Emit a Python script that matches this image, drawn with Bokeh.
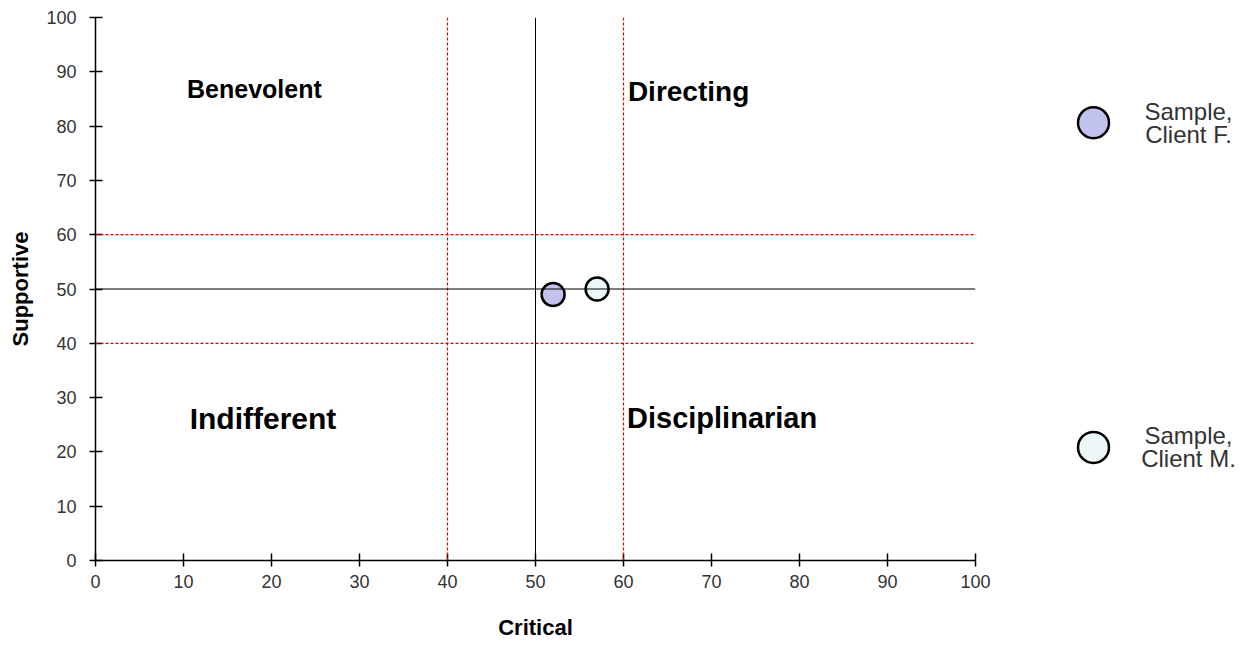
from bokeh.plotting import figure
from bokeh.models import Range1d, Span, ColumnDataSource, FixedTicker
from bokeh.layouts import row
from bokeh.embed import file_html
from bokeh.resources import INLINE
from bokeh.core.properties import value

# ---- data ----
clients = ["Sample,\nClient F.", "Sample,\nClient M."]
critical = [52, 57]
supportive = [49, 50]
fills = ["#c2c2ee", "#ecf7f7"]

ticks = [0, 10, 20, 30, 40, 50, 60, 70, 80, 90, 100]
boundaries = [40, 60]
midline = 50

quad_names = ["Benevolent", "Directing", "Indifferent", "Disciplinarian"]
quad_x = [10.4, 60.5, 10.7, 60.4]
quad_y = [86.8, 86.4, 26.1, 26.2]
quad_size = ["25px", "28px", "30px", "29px"]

FONT = "Liberation Sans"

p = figure(frame_width=880, frame_height=543,
           x_range=Range1d(0, 100), y_range=Range1d(0, 100),
           output_backend="svg", toolbar_location=None,
           min_border_left=95, min_border_right=30,
           min_border_top=17, min_border_bottom=78)
p.outline_line_color = None
p.grid.visible = False
p.background_fill_color = "white"

for ax in (p.xaxis[0], p.yaxis[0]):
    ax.ticker = FixedTicker(ticks=ticks)
    ax.minor_tick_line_color = None
    ax.major_tick_in = 7
    ax.major_tick_out = 6
    ax.axis_line_width = 1.5
    ax.major_tick_line_width = 1.5
    ax.axis_line_color = "black"
    ax.major_tick_line_color = "black"
    ax.major_label_text_font = FONT
    ax.major_label_text_font_size = "18px"
    ax.major_label_text_color = "#333333"
    ax.axis_label_text_font = FONT
    ax.axis_label_text_font_style = "bold"
    ax.axis_label_text_font_size = "22px"
    ax.axis_label_text_color = "black"

p.xaxis.axis_label = "Critical"
p.yaxis.axis_label = "Supportive"
p.xaxis.major_label_standoff = 8
p.xaxis.axis_label_standoff = 24
p.yaxis.major_label_standoff = 13
p.yaxis.axis_label_standoff = 10
p.yaxis.major_label_orientation = "horizontal"

for b in boundaries:
    p.add_layout(Span(location=b, dimension="height", line_color="#e00000",
                      line_dash="3 2", line_width=1.2))
    p.add_layout(Span(location=b, dimension="width", line_color="#e00000",
                      line_dash="3 2", line_width=1.2))
p.add_layout(Span(location=midline, dimension="height", line_color="black", line_width=1))
p.add_layout(Span(location=midline, dimension="width", line_color="black", line_width=1))

qsrc = ColumnDataSource(dict(x=quad_x, y=quad_y, t=quad_names, s=quad_size))
p.text(x="x", y="y", text="t", source=qsrc, text_font=value(FONT),
       text_font_style="bold", text_font_size="s", text_color="black",
       text_align="left", text_baseline="alphabetic")

src = ColumnDataSource(dict(x=critical, y=supportive, fill=fills, name=clients,
                            idx=list(range(len(clients)))))
p.scatter(x="x", y="y", source=src, size=23, fill_color="fill",
          line_color="black", line_width=2.5)

# ---- legend panel ----
lg = figure(width=231, height=638, x_range=Range1d(0, 231),
            y_range=Range1d(1.336, -0.324), output_backend="svg",
            toolbar_location=None, min_border=0)
lg.axis.visible = False
lg.grid.visible = False
lg.outline_line_color = None
lg.scatter(x=88, y="idx", source=src, size=31, fill_color="fill",
           line_color="black", line_width=2.5)
lg.text(x=183, y="idx", text="name", source=src, text_font=value(FONT),
        text_font_size="24px", text_color="#333333", text_align="center",
        text_baseline="middle", text_line_height=0.85)

layout = row(p, lg)
open("out.html", "w").write(file_html(layout, INLINE))
